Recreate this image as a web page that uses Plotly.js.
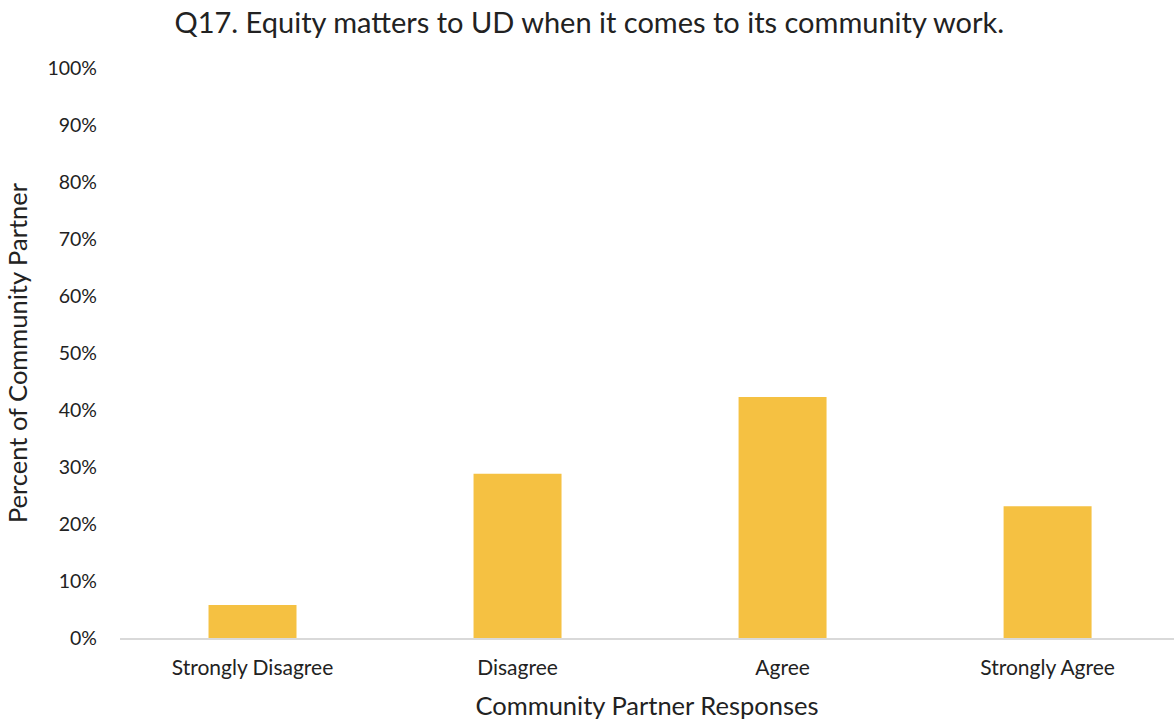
<!DOCTYPE html>
<html>
<head>
<meta charset="utf-8">
<script src="https://cdn.plot.ly/plotly-3.0.1.min.js"></script>
<style>html,body{margin:0;padding:0;background:#fff;}#chart{width:1174px;height:721px;}</style>
</head>
<body>
<div id="chart"></div>
<script>
const categories = ["Strongly Disagree", "Disagree", "Agree", "Strongly Agree"];
const percentValues = [5.8, 28.8, 42.3, 23.1];
const yTickValues = [0, 10, 20, 30, 40, 50, 60, 70, 80, 90, 100];
const yTickLabels = ["0%", "10%", "20%", "30%", "40%", "50%", "60%", "70%", "80%", "90%", "100%"];

const fontFam = "Lato, 'Open Sans', sans-serif";
Plotly.newPlot("chart", [{
  type: "bar",
  x: categories,
  y: percentValues,
  marker: {color: "#F5C142"},
  hoverinfo: "x+y"
}], {
  width: 1174, height: 721,
  margin: {l: 120, r: 0, t: 68, b: 83},
  paper_bgcolor: "#fff", plot_bgcolor: "#fff",
  bargap: 0.668,
  showlegend: false,
  title: {text: "Q17. Equity matters to UD when it comes to its community work.",
          font: {family: fontFam, size: 29, color: "#222"}, x: 0.502, xanchor: "center", y: 0.968, yanchor: "middle"},
  xaxis: {
    range: [-0.5, 3.477],
    showgrid: false, showline: true, linecolor: "#d9d9d9", linewidth: 1.5,
    ticks: "", tickfont: {family: fontFam, size: 21, color: "#222"},
    ticklabelstandoff: 10,
    title: {text: "Community Partner Responses", font: {family: fontFam, size: 25.5, color: "#222"}, standoff: 19}
  },
  yaxis: {
    range: [0, 100], showgrid: false, zeroline: false, showline: false,
    tickvals: yTickValues, ticktext: yTickLabels, ticks: "",
    ticklabelstandoff: 22,
    tickfont: {family: fontFam, size: 19.5, color: "#222"},
    title: {text: "Percent of Community Partner", font: {family: fontFam, size: 25.5, color: "#222"}, standoff: 12}
  }
}, {displayModeBar: false, staticPlot: true});
</script>
</body>
</html>
